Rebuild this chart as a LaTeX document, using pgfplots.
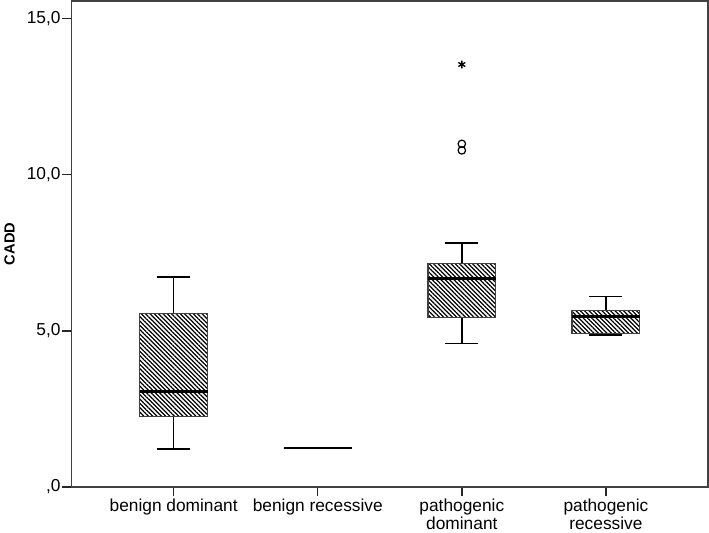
\documentclass[border=0pt]{standalone}
\usepackage{pgfplots}
\pgfplotsset{compat=1.18}
\usepgfplotslibrary{statistics}
\usetikzlibrary{patterns.meta}
\usepackage{fontspec}
\setmainfont{Liberation Sans}

\begin{document}
\begin{tikzpicture}
\begin{axis}[
    scale only axis,
    width=478pt, height=365pt,
    xmin=0.29, xmax=4.71,
    ymin=0, ymax=15.57,
    xtick={1,2,3,4},
    xticklabels={benign dominant, benign recessive, pathogenic\\dominant, pathogenic\\recessive},
    xticklabel style={align=center, font=\fontsize{13}{12}\selectfont, inner sep=2pt},
    ytick={0,5,10,15},
    yticklabels={{,0},{5,0},{10,0},{15,0}},
    yticklabel style={font=\fontsize{13}{13}\selectfont, inner sep=1pt},
    tick align=outside,
    xtick pos=bottom, ytick pos=left,
    major tick length=7pt,
    tick style={black!85, line width=1.1pt},
    axis line style={black!75, line width=1.2pt},
    ylabel={\bfseries CADD},
    every axis y label/.style={at={(axis description cs:-0.097,0.5)},
        rotate=90, anchor=center, font=\fontsize{11}{12}\selectfont},
    boxplot/draw direction=y,
    boxplot/box extend=0.47,
    boxplot/whisker extend=0.23,
    boxplot/every box/.style={draw=black!75, line width=0.9pt,
        pattern={Lines[angle=-45, distance=2.3pt, line width=0.9pt]}},
    boxplot/every whisker/.style={black, line width=1.1pt},
    boxplot/every median/.style={black, line width=2.2pt},
]
\addplot[boxplot prepared={draw position=1,
    lower whisker=1.22, lower quartile=2.27, median=3.07,
    upper quartile=5.56, upper whisker=6.72}] coordinates {};
\addplot[boxplot prepared={draw position=2,
    lower whisker=1.25, lower quartile=1.25, median=1.25,
    upper quartile=1.25, upper whisker=1.25}] coordinates {};
\addplot[boxplot prepared={draw position=3,
    lower whisker=4.60, lower quartile=5.43, median=6.67,
    upper quartile=7.16, upper whisker=7.81}] coordinates {};
\addplot[boxplot prepared={draw position=4,
    lower whisker=4.87, lower quartile=4.92, median=5.45,
    upper quartile=5.66, upper whisker=6.10}] coordinates {};
% outliers
\addplot[only marks, mark=o, mark size=2.8pt, line width=0.9pt, black]
    coordinates {(3,10.78) (3,10.99)};
\addplot[only marks, mark=asterisk, mark size=3pt, line width=1pt, black]
    coordinates {(3,13.53)};
\end{axis}
\end{tikzpicture}
\end{document}
